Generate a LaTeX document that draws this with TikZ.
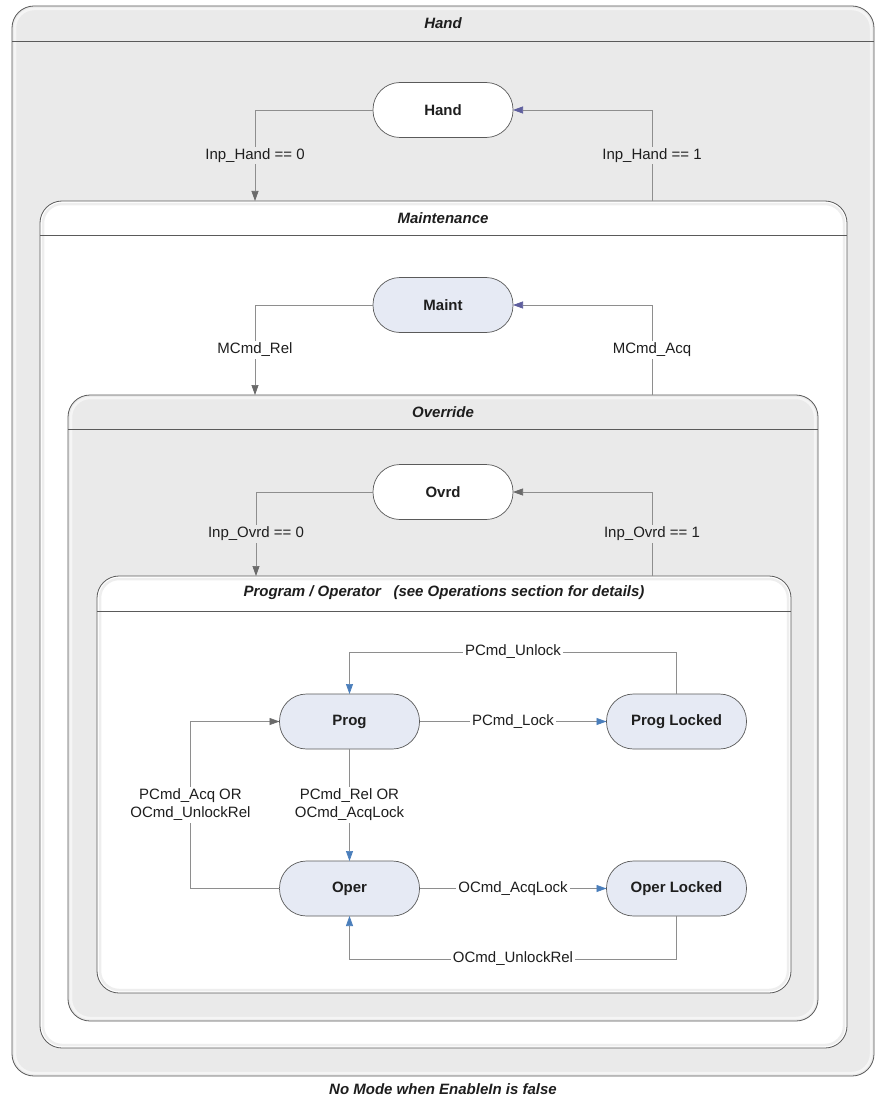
\documentclass[tikz,border=0pt]{standalone}
\usepackage{fontspec}
\setmainfont{Liberation Sans}
\usetikzlibrary{arrows.meta}

\definecolor{linegray}{HTML}{8E8E8E}
\definecolor{edgegray}{HTML}{5A5A5A}
\definecolor{panelgray}{HTML}{EAEAEA}
\definecolor{panellight}{HTML}{F5F5F5}
\definecolor{whiteshade}{HTML}{EEEEEE}
\definecolor{statefill}{HTML}{E6EAF4}
\definecolor{tipgray}{HTML}{6A6A6A}
\definecolor{tipblue}{HTML}{4A7EBB}
\definecolor{tipviolet}{HTML}{5F5F9E}
\definecolor{inkc}{HTML}{1E1E1E}

\begin{document}
\begin{tikzpicture}[x=1pt,y=-1pt,
  font=\fontsize{15}{18}\selectfont, text=inkc,
  region/.style={draw=edgegray, line width=0.8pt, rounded corners=22pt,
    inner sep=0pt, outer sep=0pt},
  bevel/.style={line width=2.5pt, rounded corners=19pt},
  hdr/.style={draw=edgegray, line width=0.8pt},
  regiontitle/.style={font=\fontsize{15}{18}\selectfont\bfseries\itshape},
  modebox/.style={draw=edgegray, line width=0.7pt, rounded corners=27pt,
    minimum width=140pt, minimum height=55pt, inner sep=0pt, outer sep=0pt,
    font=\fontsize{15}{18}\selectfont\bfseries},
  plainmode/.style={modebox, fill=white},
  bluemode/.style={modebox, fill=statefill},
  tr/.style={draw=linegray, line width=0.7pt},
  lbl/.style={inner sep=2pt, align=center},
  gtip/.style={-{Triangle[length=10pt,width=7pt,color=tipgray]}},
  btip/.style={-{Triangle[length=10pt,width=7pt,color=tipblue]}},
  vtip/.style={-{Triangle[length=10pt,width=7pt,color=tipviolet]}},
]
\fill[white] (0,0) rectangle (876,1102);
\useasboundingbox (0,0) rectangle (876,1102);

% nested mode regions, each with a soft inner bevel and a title band
\node[region, fill=panelgray, minimum width=862pt, minimum height=1070pt] (handreg) at (443,541) {};
\draw[bevel, panellight] ([shift={(3,3)}]handreg.north west) rectangle ([shift={(-3,-3)}]handreg.south east);
\draw[hdr] (handreg.west |- 0,41) -- (handreg.east |- 0,41);
\node[regiontitle] (handtitle) at (443,23) {Hand};

\node[region, fill=white, minimum width=807pt, minimum height=847pt] (maintreg) at (443.5,624.5) {};
\draw[bevel, whiteshade] ([shift={(3,3)}]maintreg.north west) rectangle ([shift={(-3,-3)}]maintreg.south east);
\draw[hdr] (maintreg.west |- 0,235) -- (maintreg.east |- 0,235);
\node[regiontitle] (mainttitle) at (443,218) {Maintenance};

\node[region, fill=panelgray, minimum width=750pt, minimum height=626pt] (ovrdreg) at (443,708) {};
\draw[bevel, panellight] ([shift={(3,3)}]ovrdreg.north west) rectangle ([shift={(-3,-3)}]ovrdreg.south east);
\draw[hdr] (ovrdreg.west |- 0,429) -- (ovrdreg.east |- 0,429);
\node[regiontitle] (ovrdtitle) at (443,412) {Override};

\node[region, fill=white, minimum width=694pt, minimum height=417pt] (progreg) at (444,784.5) {};
\draw[bevel, whiteshade] ([shift={(3,3)}]progreg.north west) rectangle ([shift={(-3,-3)}]progreg.south east);
\draw[hdr] (progreg.west |- 0,611) -- (progreg.east |- 0,611);
\node[regiontitle] (progtitle) at (444,593) {Program / Operator\ \ \ (see Operations section for details)};

% states
\node[plainmode] (hand) at (443,110) {Hand};
\node[bluemode] (maint) at (443,305) {Maint};
\node[plainmode] (ovrd) at (443,492) {Ovrd};
\node[bluemode] (prog) at (349.5,721.5) {Prog};
\node[bluemode] (plock) at (676.5,721.5) {Prog Locked};
\node[bluemode] (oper) at (349.5,888.5) {Oper};
\node[bluemode] (olock) at (676.5,888.5) {Oper Locked};

% Hand transitions
\draw[tr, gtip] (hand.west) -| node[lbl, fill=panelgray, pos=0.75] {Inp\_Hand == 0} (maintreg.north -| 255,0);
\draw[tr, vtip] (maintreg.north -| 652,0) |- node[lbl, fill=panelgray, pos=0.25] {Inp\_Hand == 1} (hand.east);

% Maintenance transitions
\draw[tr, gtip] (maint.west) -| node[lbl, fill=white, pos=0.75] {MCmd\_Rel} (ovrdreg.north -| 255,0);
\draw[tr, vtip] (ovrdreg.north -| 652,0) |- node[lbl, fill=white, pos=0.25] {MCmd\_Acq} (maint.east);

% Override transitions
\draw[tr, gtip] (ovrd.west) -| node[lbl, fill=panelgray, pos=0.75] {Inp\_Ovrd == 0} (progreg.north -| 256,0);
\draw[tr, gtip] (progreg.north -| 652,0) |- node[lbl, fill=panelgray, pos=0.25] {Inp\_Ovrd == 1} (ovrd.east);

% Program / Operator transitions
\draw[tr, btip] (plock.north) -- ++(0,-42) -| node[lbl, fill=white, pos=0.25] {PCmd\_Unlock} (prog.north);
\draw[tr, btip] (prog.east) -- node[lbl, fill=white] {PCmd\_Lock} (plock.west);
\draw[tr, btip] (prog.south) -- node[lbl, fill=white] {PCmd\_Rel OR\\OCmd\_AcqLock} (oper.north);
\draw[tr, gtip] (oper.west) -- ++(-89,0) |- node[lbl, fill=white, pos=0.25] {PCmd\_Acq OR\\OCmd\_UnlockRel} (prog.west);
\draw[tr, btip] (oper.east) -- node[lbl, fill=white] {OCmd\_AcqLock} (olock.west);
\draw[tr, btip] (olock.south) -- ++(0,43) -| node[lbl, fill=white, pos=0.25] {OCmd\_UnlockRel} (oper.south);

% caption
\node[regiontitle] (caption) at (443,1089) {No Mode when EnableIn is false};
\end{tikzpicture}
\end{document}
